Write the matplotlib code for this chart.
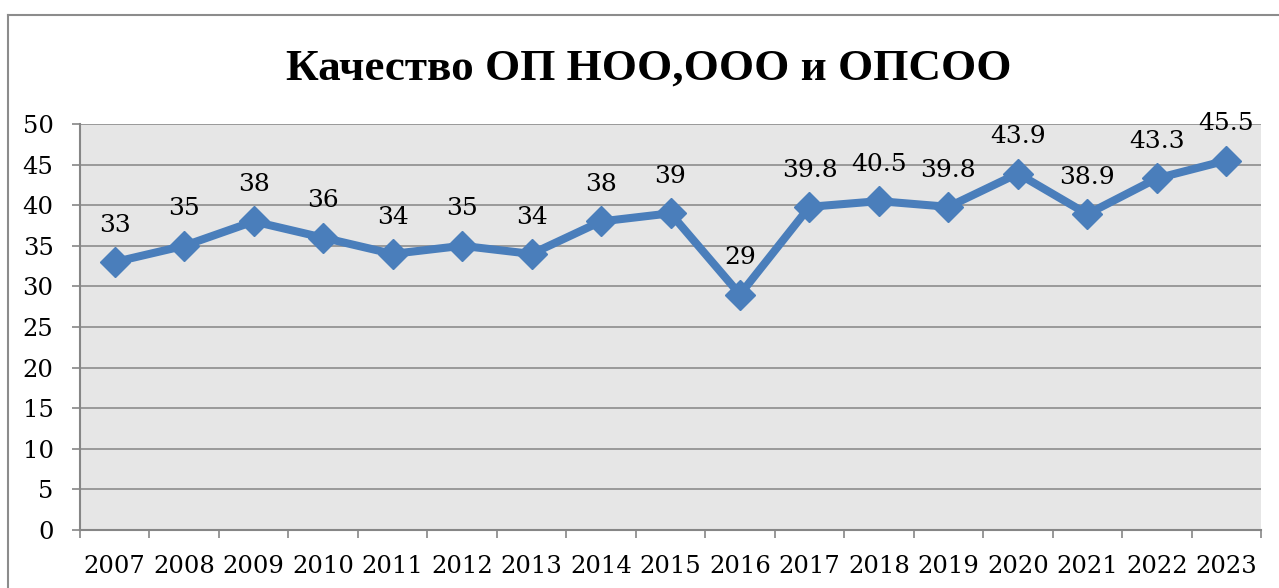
import matplotlib.pyplot as plt
import numpy as np

years = ['2007', '2008', '2009', '2010', '2011', '2012', '2013', '2014', '2015',
         '2016', '2017', '2018', '2019', '2020', '2021', '2022', '2023']
values = [33, 35, 38, 36, 34, 35, 34, 38, 39, 29, 39.8, 40.5, 39.8, 43.9, 38.9, 43.3, 45.5]
labels = ['33', '35', '38', '36', '34', '35', '34', '38', '39', '29',
          '39.8', '40.5', '39.8', '43.9', '38.9', '43.3', '45.5']
title = 'Качество ОП НОО,ООО и ОПСОО'

W, H = 1279, 588
fig = plt.figure(figsize=(W / 100, H / 100), dpi=100)
ax = fig.add_axes([80 / W, 1 - 530 / H, (1261 - 80) / W, (530 - 124) / H])

x = np.arange(len(years))
ax.plot(x, values, color='#4a7ebb', lw=5.8, marker='D', ms=15, mec='#4a7ebb',
        mfc='#4a7ebb', solid_joinstyle='miter', zorder=3, clip_on=False)
for xi, v, lab in zip(x, values, labels):
    ax.annotate(lab, (xi, v), xytext=(0, 26.5), textcoords='offset points',
                ha='center', va='center', fontsize=18, family='DejaVu Serif')

ax.set_facecolor('#e6e6e6')
ax.set_xlim(-0.5, len(years) - 0.5)
ax.set_ylim(0, 50)
ax.set_yticks(np.arange(0, 51, 5))
ax.set_xticks(np.arange(-0.5, len(years), 1))
ax.set_xticklabels([])
ax.set_xticks(x, minor=True)
ax.set_xticklabels(years, minor=True)
ax.tick_params(axis='x', which='minor', length=0, pad=18)
ax.tick_params(axis='x', which='major', length=6, color='#868686', width=1.2)
ax.tick_params(axis='y', length=6, color='#868686', width=1.2, pad=13)
for t in ax.get_xticklabels(minor=True) + ax.get_yticklabels():
    t.set_family('DejaVu Serif')
    t.set_fontsize(17.5)
ax.grid(axis='y', color='#8c8c8c', lw=1.2)
ax.set_axisbelow(True)
for s in ['top', 'right']:
    ax.spines[s].set_visible(False)
for s in ['left', 'bottom']:
    ax.spines[s].set_color('#868686')
    ax.spines[s].set_linewidth(1.5)

fig.text(649 / W, 1 - 69 / H, title, ha='center', va='center', fontsize=32.5,
         fontweight='bold', family='Liberation Serif')

# outer chart border
fig.add_artist(plt.Line2D([8 / W, 1], [1 - 15 / H] * 2, color='#8c8c8c', lw=1.5))
fig.add_artist(plt.Line2D([8 / W] * 2, [0, 1 - 15 / H], color='#8c8c8c', lw=1.5))

fig.savefig('out.png', dpi=100)
